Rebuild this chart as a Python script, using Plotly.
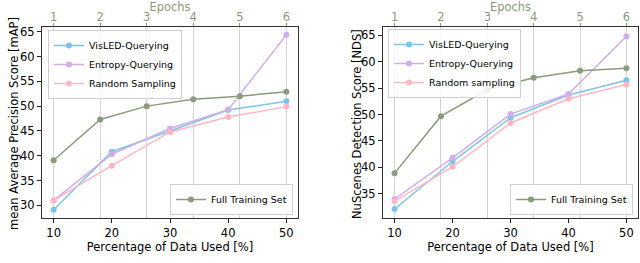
import plotly.graph_objects as go

# ---------------- data ----------------
pct = [10, 20, 30, 40, 50]
epochs = [1, 2, 3, 4, 5, 6]
pct_ticks = [10, 20, 30, 40, 50]
epoch_ticks = [1, 2, 3, 4, 5, 6]

map_visled = [29.1, 40.8, 45.0, 49.2, 51.0]
map_entropy = [31.0, 40.3, 45.5, 49.3, 64.4]
map_random = [31.0, 38.0, 44.8, 47.8, 49.9]
map_full = [39.1, 47.3, 50.0, 51.4, 52.0, 52.9]

nds_visled = [32.1, 41.1, 49.4, 53.7, 56.5]
nds_entropy = [34.0, 41.8, 50.1, 53.9, 64.8]
nds_random = [33.6, 40.1, 48.4, 53.0, 55.7]
nds_full = [38.9, 49.7, 54.7, 57.0, 58.3, 58.8]

# ---------------- styles ----------------
C_VIS = "#7fc3e8"
C_ENT = "#cfaeea"
C_RND = "#ffb7c5"
C_FULL = "#8b9b7b"
FONT = "DejaVu Sans"
FS = 11.5
W, H = 640, 263

def px_x(p):
    return p / W

def px_y(p):
    return 1 - p / H

fig = go.Figure()

def add_line(x, y, name, color, xa, ya, legend):
    fig.add_trace(go.Scatter(
        x=x, y=y, name=name, mode="lines+markers",
        line=dict(color=color, width=1.5),
        marker=dict(color=color, size=6),
        xaxis=xa, yaxis=ya, legend=legend,
    ))

# left panel
add_line(pct, map_visled, "VisLED-Querying", C_VIS, "x", "y", "legend")
add_line(pct, map_entropy, "Entropy-Querying", C_ENT, "x", "y", "legend")
add_line(pct, map_random, "Random Sampling", C_RND, "x", "y", "legend")
add_line(epochs, map_full, "Full Training Set", C_FULL, "x2", "y", "legend2")

# right panel
add_line(pct, nds_visled, "VisLED-Querying", C_VIS, "x3", "y2", "legend3")
add_line(pct, nds_entropy, "Entropy-Querying", C_ENT, "x3", "y2", "legend3")
add_line(pct, nds_random, "Random sampling", C_RND, "x3", "y2", "legend3")
add_line(epochs, nds_full, "Full Training Set", C_FULL, "x4", "y2", "legend4")

left_dom = [px_x(42), px_x(298)]
right_dom = [px_x(383), px_x(638)]
y_dom = [px_y(218), px_y(27)]

bottom_axis = dict(
    range=[8, 52], tickvals=pct_ticks, ticks="outside", ticklen=4,
    tickcolor="#222", showline=True, linecolor="#333", linewidth=1,
    mirror=True, showgrid=False, zeroline=False, automargin=False,
    tickfont=dict(family=FONT, size=FS, color="black"),
    title=dict(text="Percentage of Data Used [%]",
               font=dict(family=FONT, size=FS, color="black"), standoff=2),
)
top_axis = dict(
    range=[0.75, 6.25], tickvals=epoch_ticks, side="top", ticks="outside",
    ticklen=3, tickcolor=C_FULL, showline=False, showgrid=True,
    gridcolor="#d4d4d4", gridwidth=1, zeroline=False, automargin=False,
    ticklabelstandoff=-3,
    tickfont=dict(family=FONT, size=FS, color=C_FULL),
    title=dict(text="Epochs", font=dict(family=FONT, size=FS, color=C_FULL),
               standoff=0),
)
y_common = dict(
    ticks="outside", ticklen=4, tickcolor="#222", showline=True,
    linecolor="#333", linewidth=1, mirror=True, showgrid=False,
    zeroline=False, automargin=False,
    tickfont=dict(family=FONT, size=FS, color="black"),
)

legend_common = dict(
    bgcolor="rgba(255,255,255,0.85)", bordercolor="#d0d0d0", borderwidth=1,
    font=dict(family=FONT, size=9.5, color="black"), itemwidth=30,
    tracegroupgap=0,
)

y_titles = [
    ("mean Average Precision Score [mAP]", 14),
    ("NuScenes Detection Score [NDS]", 357),
]
annotations = [
    dict(text=t, x=px_x(xp), y=px_y(124), xref="paper", yref="paper",
         textangle=-90, showarrow=False, xanchor="center", yanchor="middle",
         font=dict(family=FONT, size=FS, color="black"))
    for t, xp in y_titles
]

fig.update_layout(
    width=W, height=H, margin=dict(l=0, r=0, t=0, b=0, autoexpand=False),
    paper_bgcolor="white", plot_bgcolor="white", showlegend=True,
    annotations=annotations,
    xaxis=dict(domain=left_dom, anchor="y", **bottom_axis),
    xaxis2=dict(domain=left_dom, anchor="y", overlaying="x", **top_axis),
    xaxis3=dict(domain=right_dom, anchor="y2", **bottom_axis),
    xaxis4=dict(domain=right_dom, anchor="y2", overlaying="x3", **top_axis),
    yaxis=dict(domain=y_dom, anchor="x", range=[27.45, 65.95],
               tickvals=[30, 35, 40, 45, 50, 55, 60, 65], **y_common),
    yaxis2=dict(domain=y_dom, anchor="x3", range=[30.4, 66.6],
                tickvals=[35, 40, 45, 50, 55, 60, 65], **y_common),
    legend=dict(x=px_x(48), y=px_y(30), xanchor="left", yanchor="top",
                **legend_common),
    legend2=dict(x=px_x(293), y=px_y(215), xanchor="right", yanchor="bottom",
                 **legend_common),
    legend3=dict(x=px_x(388), y=px_y(29), xanchor="left", yanchor="top",
                 **legend_common),
    legend4=dict(x=px_x(633), y=px_y(215), xanchor="right", yanchor="bottom",
                 **legend_common),
)

fig.write_html(
    "out.html",
    config={"displayModeBar": False},
    post_script="document.body.style.margin='0';document.body.style.padding='0';",
)
